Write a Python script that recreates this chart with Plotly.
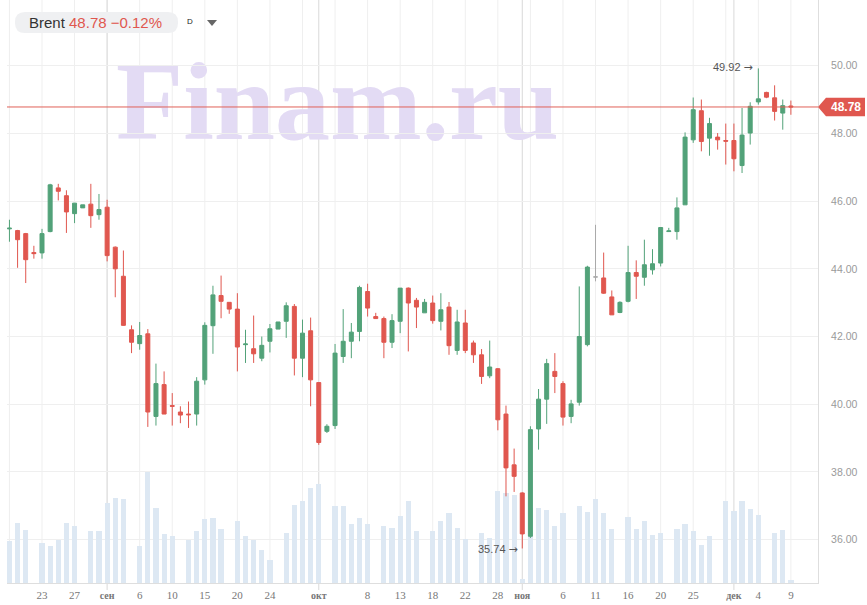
import plotly.graph_objects as go

# ---------------- data (daily Brent candles) ----------------
opens = [45.18, 45.13, 45.04, 44.48, 44.47, 45.10, 46.39, 46.16, 45.63, 45.80,
         45.91, 45.60, 45.82, 44.64, 43.78, 42.20, 41.79, 42.08, 39.64, 40.58,
         39.96, 39.77, 39.71, 39.71, 40.72, 42.32, 43.21, 43.01, 42.81, 41.76,
         41.64, 41.36, 41.86, 42.22, 42.45, 42.89, 41.36, 42.17, 40.64, 39.20,
         39.37, 41.41, 41.86, 42.15, 43.33, 42.59, 42.53, 41.83, 42.45, 43.43,
         43.07, 42.70, 42.99, 42.45, 42.87, 41.59, 42.40, 41.81, 41.46, 40.84,
         41.05, 39.71, 38.21, 37.38, 36.10, 39.27, 40.15, 40.97, 40.61, 39.64,
         40.06, 41.76, 43.76, 43.73, 43.17, 42.71, 43.04, 43.89, 43.75, 43.97,
         44.17, 45.10, 45.10, 45.89, 47.81, 48.67, 47.86, 47.89, 47.79, 47.79,
         47.05, 48.01, 48.93, 49.21, 49.05, 48.60, 48.81]
highs = [45.45, 45.15, 45.06, 44.68, 45.18, 46.51, 46.51, 46.32, 45.94, 45.89,
         46.51, 46.21, 46.04, 44.66, 44.54, 42.33, 42.43, 42.22, 41.20, 40.97,
         40.33, 39.94, 40.08, 40.80, 42.42, 43.50, 43.80, 43.01, 43.28, 42.20,
         42.62, 42.00, 42.37, 42.43, 43.01, 42.96, 42.50, 42.56, 40.64, 39.41,
         41.78, 42.81, 42.40, 43.50, 43.56, 42.70, 42.59, 42.66, 43.43, 43.45,
         43.14, 43.11, 43.21, 43.28, 43.02, 42.79, 42.79, 41.88, 41.63, 41.88,
         41.07, 39.96, 38.69, 37.40, 39.35, 40.45, 41.34, 41.51, 40.68, 40.13,
         43.48, 44.09, 45.30, 44.48, 43.36, 43.04, 44.68, 44.25, 44.86, 44.58,
         45.22, 45.21, 46.11, 48.03, 49.06, 49.00, 48.46, 48.01, 48.29, 48.29,
         48.75, 48.92, 49.92, 49.23, 49.42, 49.00, 48.97]
lows = [44.80, 44.03, 43.58, 44.30, 44.30, 45.08, 46.02, 45.06, 45.35, 45.80,
        45.21, 45.45, 44.22, 43.16, 42.32, 41.51, 41.61, 39.33, 39.37, 39.71,
        39.37, 39.44, 39.30, 39.37, 40.58, 41.49, 42.54, 42.67, 40.97, 41.22,
        41.22, 41.27, 41.53, 42.22, 41.96, 40.85, 40.80, 39.94, 38.80, 39.15,
        39.27, 41.22, 41.36, 41.86, 42.59, 42.52, 41.36, 41.66, 42.10, 41.56,
        42.25, 42.70, 42.38, 42.18, 41.46, 41.46, 41.51, 41.22, 40.60, 40.77,
        39.23, 37.28, 37.41, 35.74, 36.05, 38.66, 39.42, 40.33, 39.37, 39.44,
        39.96, 41.71, 43.63, 43.26, 42.64, 42.69, 43.01, 43.11, 43.50, 43.83,
        44.07, 45.10, 44.86, 45.89, 47.72, 47.47, 47.34, 47.52, 47.08, 46.88,
        46.83, 47.67, 48.85, 49.04, 48.38, 48.11, 48.55]
closes = [45.20, 44.86, 44.27, 44.45, 45.04, 46.48, 46.29, 45.68, 45.94, 45.89,
          45.57, 45.75, 44.39, 44.00, 42.33, 41.83, 42.03, 39.77, 40.61, 39.71,
          39.94, 39.68, 39.69, 40.68, 42.33, 43.23, 43.04, 42.81, 41.69, 41.78,
          41.49, 41.74, 42.23, 42.43, 42.91, 41.36, 42.10, 40.72, 38.87, 39.35,
          41.51, 41.86, 42.13, 43.45, 42.84, 42.53, 41.83, 42.47, 43.43, 42.99,
          42.87, 43.01, 42.47, 42.79, 41.73, 42.43, 41.59, 41.46, 40.82, 41.10,
          39.54, 38.12, 37.87, 36.17, 39.25, 40.15, 41.20, 40.82, 39.62, 40.01,
          42.00, 44.05, 43.76, 43.28, 42.64, 43.01, 43.89, 43.78, 44.12, 44.15,
          45.22, 45.12, 45.80, 47.89, 48.70, 47.76, 48.29, 47.81, 47.77, 47.25,
          47.95, 48.80, 49.02, 49.07, 48.65, 48.82, 48.78]
volumes = [41.7, 60.0, 53.3, 0, 40.0, 36.7, 43.3, 60.0, 56.7, 0,
           51.7, 52.3, 80.0, 85.0, 84.0, 0, 36.7, 111.0, 75.0, 49.0,
           47.3, 0, 43.3, 51.7, 64.0, 65.0, 54.3, 0, 62.3, 47.3,
           43.3, 33.3, 23.3, 0, 50.0, 78.3, 82.3, 95.0, 99.3, 0,
           76.7, 76.7, 59.0, 65.0, 59.0, 0, 56.7, 55.0, 66.7, 81.7,
           52.3, 0, 51.7, 61.7, 70.0, 55.0, 44.3, 0, 50.0, 45.0,
           92.3, 90.0, 88.3, 4.0, 75.0, 75.0, 73.3, 56.7, 70.0, 0,
           77.3, 71.0, 84.0, 70.0, 54.3, 0, 65.7, 54.3, 62.3, 48.3,
           50.0, 0, 54.3, 59.0, 51.7, 38.3, 47.3, 0, 82.3, 71.7,
           81.7, 74.3, 67.7, 0, 50.0, 53.3, 3.0]

tick_pos = [4, 8, 12, 16, 20, 24, 28, 32, 38, 44, 48, 52, 56, 60, 63, 68, 72, 76, 80, 84, 89, 92, 96]
tick_text = ["23", "27", "сен", "6", "10", "15", "20", "24", "окт", "8", "13", "18", "22", "28",
             "ноя", "6", "11", "16", "20", "25", "дек", "4", "9"]
month_names = ["сен", "окт", "ноя", "дек"]
grid_pos = [0, 4, 8, 12, 16, 20, 24, 28, 32, 36, 40, 44, 48, 52, 56, 60, 64, 68, 72, 76, 80, 84, 88, 92, 96]
price_ticks = [36, 38, 40, 42, 44, 46, 48, 50]
title_name = "Brent"
title_quote = "48.78 −0.12%"

# ---------------- styling ----------------
GREEN = "#52a279"
RED = "#e0574f"
GRAY = "#a9a9a9"
VOL = "#dde8f3"
W, H = 867, 605
ML, MR, MT, MB = 7, 49, 0, 22
PW, PH = W - ML - MR, H - MT - MB


def paper(px, py):
    return (px - ML) / PW, (PH + MT - py) / PH


def rounded_path(x0, y0, x1, y1, r):
    pts = [("M", [(x0 + r, y0)]), ("L", [(x1 - r, y0)]), ("Q", [(x1, y0), (x1, y0 + r)]),
           ("L", [(x1, y1 - r)]), ("Q", [(x1, y1), (x1 - r, y1)]), ("L", [(x0 + r, y1)]),
           ("Q", [(x0, y1), (x0, y1 - r)]), ("L", [(x0, y0 + r)]), ("Q", [(x0, y0), (x0 + r, y0)])]
    s = ""
    for cmd, ps in pts:
        s += cmd + " " + " ".join("%.5f,%.5f" % paper(a, b) for a, b in ps) + " "
    return s + "Z"


xs = list(range(len(opens)))
normal = [i for i in xs if opens[i] != closes[i]]
flat = [i for i in xs if opens[i] == closes[i]]

fig = go.Figure()
fig.add_trace(go.Bar(x=xs, y=volumes, marker=dict(color=VOL, line=dict(width=0)),
                     width=0.64, yaxis="y", hoverinfo="skip", showlegend=False))
fig.add_trace(go.Candlestick(
    x=[xs[i] for i in normal], open=[opens[i] for i in normal], high=[highs[i] for i in normal],
    low=[lows[i] for i in normal], close=[closes[i] for i in normal], yaxis="y2",
    increasing=dict(line=dict(color=GREEN, width=1), fillcolor=GREEN),
    decreasing=dict(line=dict(color=RED, width=1), fillcolor=RED),
    whiskerwidth=0, showlegend=False))
fig.add_trace(go.Candlestick(
    x=[xs[i] for i in flat], open=[opens[i] for i in flat], high=[highs[i] for i in flat],
    low=[lows[i] for i in flat], close=[closes[i] for i in flat], yaxis="y2",
    increasing=dict(line=dict(color=GRAY, width=1), fillcolor=GRAY),
    decreasing=dict(line=dict(color=GRAY, width=1), fillcolor=GRAY),
    whiskerwidth=0, showlegend=False))

shapes = []
for g in grid_pos:
    shapes.append(dict(type="line", xref="x", yref="paper", x0=g, x1=g, y0=0, y1=1,
                       line=dict(color="#efefef", width=1), layer="below"))
for p, t in zip(tick_pos, tick_text):
    if t in month_names:
        shapes.append(dict(type="line", xref="x", yref="paper", x0=p, x1=p, y0=-0.012, y1=1,
                           line=dict(color="#d9d9d9", width=1), layer="below"))
# watermark
wx0, wy1 = paper(110, 40)
wx1, wy0 = paper(565, 140)
shapes.append(dict(type="rect", xref="paper", yref="paper", x0=wx0, x1=wx1, y0=wy0, y1=wy1,
                   line=dict(width=0), fillcolor="rgba(0,0,0,0)", layer="below",
                   label=dict(text="Finam.ru", textposition="middle center",
                              font=dict(family="Liberation Serif", size=110, color="#e3dbf4",
                                        weight="bold"))))
# last price line
last = closes[-1]
shapes.append(dict(type="line", xref="paper", yref="y2", x0=0, x1=1, y0=last, y1=last,
                   line=dict(color="#e06058", width=1), layer="above"))
# price tag
hh = 0.27
tx0 = 1.0
tx1 = 1.0 + 8 / PW
tx2 = 1.0 + 47 / PW
shapes.append(dict(type="path", xref="paper", yref="y2",
                   path="M %.5f,%.4f L %.5f,%.4f L %.5f,%.4f L %.5f,%.4f L %.5f,%.4f Z" % (
                       tx0, last, tx1, last + hh, tx2, last + hh, tx2, last - hh, tx1, last - hh),
                   fillcolor="#e0574f", line=dict(width=0), layer="above"))
# title pill
shapes.append(dict(type="path", xref="paper", yref="paper", path=rounded_path(15, 12, 178, 33, 10),
                   fillcolor="#eff0f2", line=dict(width=0), layer="above"))
# dropdown triangle
a1 = paper(207, 20)
a2 = paper(217, 20)
a3 = paper(212, 26)
shapes.append(dict(type="path", xref="paper", yref="paper",
                   path="M %.5f,%.5f L %.5f,%.5f L %.5f,%.5f Z" % (a1 + a2 + a3),
                   fillcolor="#666666", line=dict(width=0), layer="above"))

ticktext_fmt = []
for t in tick_text:
    if t in month_names:
        ticktext_fmt.append("<span style='font-size:10px'><b>%s</b></span>" % t)
    else:
        ticktext_fmt.append(t)

ARROW = "<span style='font-family:DejaVu Sans;font-size:11px'>→</span>"
hi_i = highs.index(max(highs))
lo_i = lows.index(min(lows))
tp = paper(27, 22.5)
dp = paper(190, 22)
annotations = [
    dict(xref="x", yref="y2", x=hi_i, y=highs[hi_i], text="%.2f %s" % (highs[hi_i], ARROW), showarrow=False,
         xanchor="right", yanchor="middle", xshift=-3, yshift=1,
         font=dict(family="Liberation Sans", size=11, color="#555555")),
    dict(xref="x", yref="y2", x=lo_i, y=lows[lo_i], text="%.2f %s" % (lows[lo_i], ARROW), showarrow=False,
         xanchor="right", yanchor="middle", xshift=-2, yshift=-1,
         font=dict(family="Liberation Sans", size=11, color="#555555")),
    dict(xref="paper", yref="y2", x=1.0 + 28 / PW, y=last, text="<b>%.2f</b>" % last, showarrow=False,
         xanchor="center", yanchor="middle",
         font=dict(family="Liberation Sans", size=12, color="white")),
    dict(xref="paper", yref="paper", x=tp[0], y=tp[1], showarrow=False, xanchor="left", yanchor="middle",
         text="%s <span style='color:%s'>%s</span>" % (title_name, RED, title_quote),
         font=dict(family="Liberation Sans", size=15, color="#333333")),
    dict(xref="paper", yref="paper", x=dp[0], y=dp[1], showarrow=False, xanchor="center", yanchor="middle",
         text="D", font=dict(family="Liberation Sans", size=8, color="#222222")),
]

fig.update_layout(
    width=W, height=H, margin=dict(l=ML, r=MR, t=MT, b=MB, autoexpand=False),
    paper_bgcolor="white", plot_bgcolor="white", showlegend=False, bargap=0,
    xaxis=dict(range=[-0.3, 99.33], tickmode="array", tickvals=tick_pos, ticktext=ticktext_fmt,
               showgrid=False, zeroline=False, ticks="", showline=True, linecolor="#dedede",
               automargin=False, ticklabelstandoff=2,
               tickfont=dict(family="Liberation Serif", size=11, color="#777777"),
               rangeslider=dict(visible=False), fixedrange=True),
    yaxis=dict(range=[0, PH], visible=False, fixedrange=True, showgrid=False, automargin=False),
    yaxis2=dict(overlaying="y", side="right", range=[34.72, 51.94], tickmode="array",
                tickvals=price_ticks, tickformat=".2f", showgrid=True, gridcolor="#efefef",
                zeroline=False, ticks="", showline=True, linecolor="#dedede",
                ticklabelstandoff=10, automargin=False,
                tickfont=dict(family="Liberation Sans", size=10.5, color="#9a9a9a"), fixedrange=True),
    shapes=shapes, annotations=annotations,
)

fig.write_html("out.html", config={"displayModeBar": False},
               post_script="document.body.style.margin='0';document.body.style.overflow='hidden';")
